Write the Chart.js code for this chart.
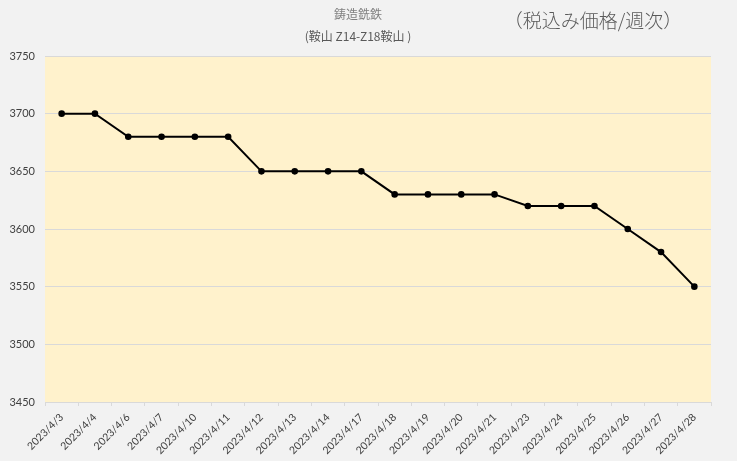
<!DOCTYPE html>
<html>
<head>
<meta charset="utf-8">
<script src="https://cdn.jsdelivr.net/npm/chart.js@4.4.0/dist/chart.umd.min.js"></script>
<style>
html,body{margin:0;padding:0;background:#f2f2f2;}
#wrap{width:737px;height:461px;position:relative;}
</style>
</head>
<body>
<div id="wrap"><canvas id="c" width="737" height="461"></canvas></div>
<script>
const categories = ["2023/4/3","2023/4/4","2023/4/6","2023/4/7","2023/4/10","2023/4/11","2023/4/12","2023/4/13","2023/4/14","2023/4/17","2023/4/18","2023/4/19","2023/4/20","2023/4/21","2023/4/23","2023/4/24","2023/4/25","2023/4/26","2023/4/27","2023/4/28"];
const prices = [3700,3700,3680,3680,3680,3680,3650,3650,3650,3650,3630,3630,3630,3630,3620,3620,3620,3600,3580,3550];
const yTicks = [3450,3500,3550,3600,3650,3700,3750];
const titleText = "鋳造銑鉄";
const subtitleText = "(鞍山 Z14-Z18鞍山 )";
const noteText = "（税込み価格/週次）";

const bgPlugin = {
  id: 'bg',
  beforeDraw(chart) {
    const {ctx, chartArea: a} = chart;
    ctx.save();
    ctx.fillStyle = '#f2f2f2';
    ctx.fillRect(0, 0, chart.width, chart.height);
    ctx.fillStyle = '#fff2cc';
    ctx.fillRect(a.left, a.top, a.right - a.left, a.bottom - a.top);
    ctx.restore();
  },
  afterDraw(chart) {
    const ctx = chart.ctx;
    ctx.save();
    ctx.textAlign = 'center';
    ctx.textBaseline = 'middle';
    ctx.fillStyle = '#808080';
    ctx.font = '12px "Noto Sans CJK JP"';
    ctx.fillText(titleText, 358, 14);
    ctx.fillStyle = '#595959';
    ctx.font = '12px "Noto Sans CJK JP"';
    ctx.fillText(subtitleText, 358, 36);
    ctx.fillStyle = '#595959';
    ctx.font = '300 19px "Noto Sans CJK JP"';
    ctx.fillText(noteText, 593, 21);
    ctx.restore();
  }
};

new Chart(document.getElementById('c'), {
  type: 'line',
  data: {
    labels: categories,
    datasets: [{
      data: prices,
      borderColor: '#000000',
      backgroundColor: '#000000',
      borderWidth: 2,
      pointRadius: 2.3,
      pointHoverRadius: 2.3,
      pointBackgroundColor: '#000000',
      pointBorderColor: '#000000',
      tension: 0,
      fill: false
    }]
  },
  options: {
    responsive: false,
    animation: false,
    events: [],
    layout: { padding: { top: 56, right: 26, left: 0, bottom: 0 } },
    plugins: { legend: { display: false }, tooltip: { enabled: false } },
    scales: {
      x: {
        offset: true,
        grid: { offset: true, drawOnChartArea: false, drawTicks: true, tickLength: 4, color: '#d9d9d9' },
        border: { display: true, color: '#d9d9d9', width: 1 },
        ticks: {
          autoSkip: false,
          maxRotation: 45, minRotation: 45,
          color: '#404040',
          font: { family: 'Lato', size: 10.5 },
          padding: 5
        },
        afterFit(scale) { scale.height = 59; }
      },
      y: {
        min: 3450, max: 3750,
        afterBuildTicks(scale) { scale.ticks = yTicks.map(v => ({ value: v })); },
        grid: { color: '#d9d9d9', drawTicks: false, lineWidth: 1 },
        border: { display: false },
        ticks: {
          color: '#404040',
          font: { family: 'Lato', size: 11 },
          padding: 10,
          callback: (v) => String(v)
        },
        afterFit(scale) { scale.width = 45; }
      }
    }
  },
  plugins: [bgPlugin]
});
</script>
</body>
</html>
